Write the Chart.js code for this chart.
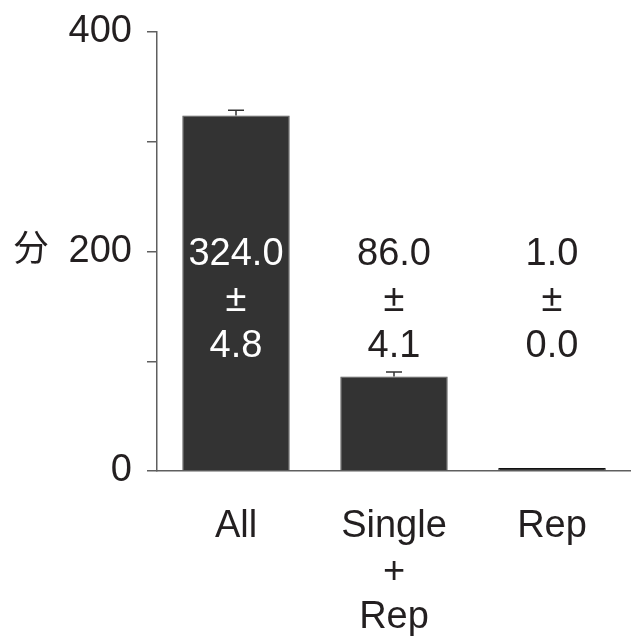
<!DOCTYPE html>
<html>
<head>
<meta charset="utf-8">
<style>
  html, body { margin: 0; padding: 0; background: #ffffff; }
  #wrap { width: 631px; height: 636px; }
</style>
<script src="https://cdn.jsdelivr.net/npm/chart.js@4/dist/chart.umd.min.js"></script>
</head>
<body>
<div id="wrap"><canvas id="c" width="631" height="636"></canvas></div>
<script>
// Mean counts per group with their standard errors
const categories = [['All'], ['Single', '+', 'Rep'], ['Rep']];
const means = [324.0, 86.0, 1.0];
const sems = [4.8, 4.1, 0.0];
const yTicks = [0, 100, 200, 300, 400];
const yLabelled = [0, 200, 400];
const yTitle = '分';
const labelAnchor = 200; // value level where the "mean ± sem" stacks start

const TEXT = '#231f20';
const AXIS = '#5f5f5f';
const FONT = '"Liberation Sans", Arial, Helvetica, sans-serif';

const annotations = {
  id: 'annotations',
  afterDatasetsDraw(chart) {
    const ctx = chart.ctx;
    const y = chart.scales.y;
    const meta = chart.getDatasetMeta(0);
    ctx.save();
    meta.data.forEach((bar, i) => {
      const v = means[i], e = sems[i];
      // error bar (upper whisker only)
      if (e > 0) {
        const yBase = y.getPixelForValue(v);
        const yTop = y.getPixelForValue(v + e);
        ctx.strokeStyle = '#333333';
        ctx.lineWidth = 1.5;
        ctx.beginPath();
        ctx.moveTo(bar.x, yBase);
        ctx.lineTo(bar.x, yTop);
        ctx.moveTo(bar.x - 8, yTop);
        ctx.lineTo(bar.x + 8, yTop);
        ctx.stroke();
      }
      // value text: mean / ± / sem
      const lines = [v.toFixed(1), '±', e.toFixed(1)];
      const y0 = y.getPixelForValue(labelAnchor);
      ctx.font = '38px ' + FONT;
      ctx.textAlign = 'center';
      ctx.textBaseline = 'alphabetic';
      lines.forEach((t, k) => {
        const base = y0 + 13.6 + k * 46;
        ctx.fillStyle = (base - 14 > bar.y) ? '#ffffff' : TEXT;
        ctx.fillText(t, bar.x, base);
      });
    });
    // upright axis title beside the 200 tick
    ctx.font = '36px "Noto Sans CJK SC", sans-serif';
    ctx.fillStyle = TEXT;
    ctx.textAlign = 'center';
    ctx.textBaseline = 'middle';
    ctx.fillText(yTitle, 31, y.getPixelForValue(200) - 4);
    ctx.restore();
  }
};

new Chart(document.getElementById('c'), {
  type: 'bar',
  data: {
    labels: categories,
    datasets: [{
      data: means,
      backgroundColor: '#333333',
      borderColor: ['#555555', '#555555', '#111111'],
      borderWidth: 1,
      minBarLength: 3,
      categoryPercentage: 1.0,
      barPercentage: 0.68
    }]
  },
  options: {
    responsive: false,
    animation: false,
    devicePixelRatio: 1,
    layout: { padding: { top: 32, left: 0, right: 0, bottom: 0 } },
    plugins: { legend: { display: false }, tooltip: { enabled: false } },
    scales: {
      x: {
        grid: { display: false, drawTicks: false },
        border: { display: true, color: AXIS, width: 1.5 },
        ticks: {
          color: TEXT,
          font: { family: FONT, size: 38, lineHeight: 1.2 },
          padding: 33,
          maxRotation: 0,
          autoSkip: false
        },
        afterFit(s) { s.height = 165; s.paddingLeft = 0; s.paddingRight = 0; }
      },
      y: {
        min: 0,
        max: 400,
        afterBuildTicks(s) { s.ticks = yTicks.map(v => ({ value: v })); },
        grid: { drawOnChartArea: false, drawTicks: true, tickLength: 10, color: AXIS, lineWidth: 1.5 },
        border: { display: true, color: AXIS, width: 1.5 },
        ticks: {
          color: TEXT,
          font: { family: FONT, size: 38 },
          padding: 15,
          callback: v => yLabelled.includes(v) ? String(v) : ''
        },
        afterFit(s) { s.width = 157; s.paddingTop = 0; s.paddingBottom = 0; }
      }
    }
  },
  plugins: [annotations]
});
</script>
</body>
</html>
